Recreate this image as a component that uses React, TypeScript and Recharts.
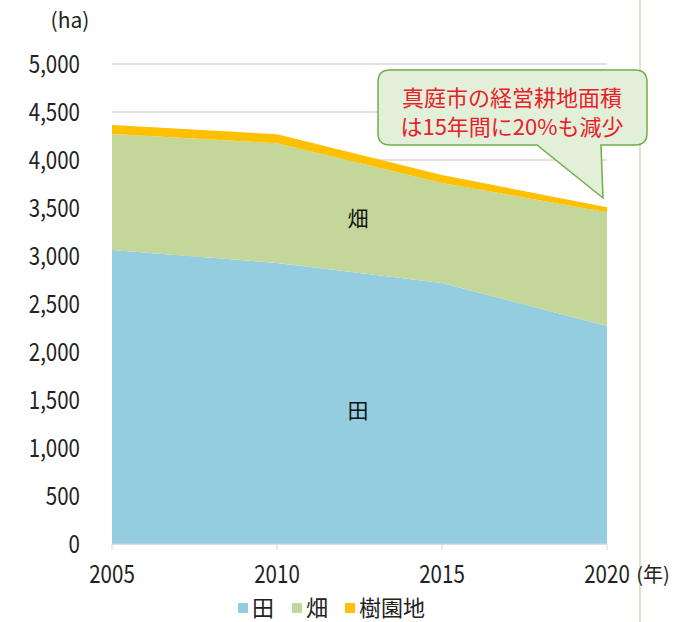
import { AreaChart, Area, XAxis, YAxis, CartesianGrid } from "recharts"

// 真庭市の経営耕地面積 (ha)
const years = ["2005", "2010", "2015", "2020"]
const paddy = [3062, 2927, 2719, 2270] // 田
const field = [1209, 1247, 1041, 1185] // 畑
const orchard = [94, 94, 84, 52] // 樹園地
const yTicks = [0, 500, 1000, 1500, 2000, 2500, 3000, 3500, 4000, 4500, 5000]

const seriesKeys = ["paddy", "field", "orchard"]
const seriesNames = ["田", "畑", "樹園地"]
const seriesColors = ["#93cddf", "#c4d79b", "#ffc000"]

const data = years.map((year, i) => ({
  year,
  paddy: paddy[i],
  field: field[i],
  orchard: orchard[i],
}))

const jp = "'Noto Sans CJK JP', 'Noto Sans', sans-serif"

// narrow digits like the original
const NumTick = ({ x, y, payload, anchor, dy, fmt }: any) => (
  <g transform={`translate(${x},${y}) scale(0.82,1)`}>
    <text textAnchor={anchor} dy={dy} fontSize={25} fontFamily={jp} fill="#222">
      {fmt ? fmt(payload.value) : payload.value}
    </text>
  </g>
)

export default function App() {
  return (
    <div style={{ position: "absolute", left: 0, top: 0, width: 675, height: 622, background: "#fff" }}>
      <AreaChart
        width={675}
        height={622}
        data={data}
        margin={{ top: 64, right: 68, bottom: 38, left: 0 }}
      >
        <CartesianGrid vertical={false} stroke="#d9d9d9" strokeWidth={1.5} />
        <XAxis
          dataKey="year"
          height={40}
          stroke="#d9d9d9"
          tickSize={6}
          tickMargin={10}
          tick={<NumTick anchor="middle" dy={23} />}
        />
        <YAxis
          width={112}
          domain={[0, 5000]}
          ticks={yTicks}
          axisLine={false}
          tickLine={false}
          tickSize={0}
          tickMargin={32}
          tick={<NumTick anchor="end" dy={9} fmt={(v: number) => v.toLocaleString("en-US")} />}
        />
        {seriesKeys.map((k, i) => (
          <Area
            key={k}
            type="linear"
            dataKey={k}
            name={seriesNames[i]}
            stackId="1"
            stroke="none"
            fill={seriesColors[i]}
            fillOpacity={1}
            isAnimationActive={false}
          />
        ))}
      </AreaChart>

      <svg
        width={675}
        height={622}
        style={{ position: "absolute", left: 0, top: 0, pointerEvents: "none" }}
      >
        <line x1={640} y1={0} x2={640} y2={622} stroke="#d6e9c6" strokeWidth={2} />
        <text x={70} y={28} textAnchor="middle" fontSize={21} fontFamily={jp} fill="#222">(ha)</text>
        <text x={653} y={582} textAnchor="middle" fontSize={20} fontFamily={jp} fill="#222">(年)</text>

        <text x={358} y={226} textAnchor="middle" fontSize={21} fontFamily={jp} fill="#111">畑</text>
        <text x={358} y={418} textAnchor="middle" fontSize={21} fontFamily={jp} fill="#111">田</text>

        <path
          d="M 390 70 H 635 Q 647 70 647 82 V 133 Q 647 145 635 145 H 601 L 603 198 L 537 145 H 390 Q 378 145 378 133 V 82 Q 378 70 390 70 Z"
          fill="#e2f0d9"
          stroke="#70ad47"
          strokeWidth={1.5}
        />
        <text x={512} y={106} textAnchor="middle" fontSize={22} fontFamily={jp} fill="#e8202a">真庭市の経営耕地面積</text>
        <text x={512} y={135} textAnchor="middle" fontSize={22} fontFamily={jp} fill="#e8202a">は15年間に20%も減少</text>

        {seriesNames.map((name, i) => {
          const xs = [238, 292, 345]
          return (
            <g key={name}>
              <rect x={xs[i]} y={603} width={10} height={10} fill={seriesColors[i]} />
              <text x={xs[i] + 14} y={616} fontSize={22} fontFamily={jp} fill="#222">{name}</text>
            </g>
          )
        })}
      </svg>
    </div>
  )
}
